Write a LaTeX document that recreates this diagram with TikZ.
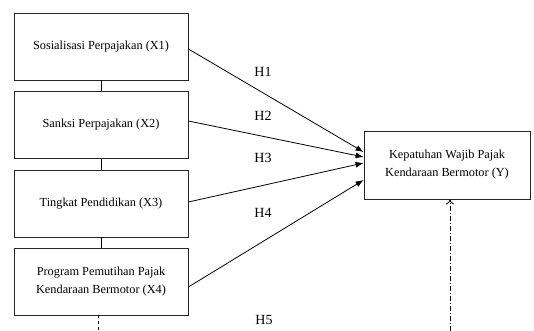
\documentclass[tikz,border=0pt]{standalone}
\usepackage{fontspec}
\setmainfont{Liberation Serif}
\usetikzlibrary{arrows.meta}
\tikzset{
	var/.style={draw=black!85, line width=.8pt, minimum width=174pt, minimum height=67pt, align=center, font=\fontsize{12.3}{18}\selectfont, inner sep=2pt},
	hyp/.style={line width=.8pt, -{Latex[length=8pt,width=6pt]}},
	hlab/.style={font=\fontsize{14}{16}\selectfont}
}
\begin{document}
\begin{tikzpicture}[x=1pt,y=-1pt]
	\useasboundingbox (0,0) rectangle (534,331);
	\node [var] (x1) at (101,46.5) {Sosialisasi Perpajakan (X1)};
	\node [var] (x2) at (101,125) {Sanksi Perpajakan (X2)};
	\node [var] (x3) at (101,203.5) {Tingkat Pendidikan (X3)};
	\node [var] (x4) at (101,281.5) {Program Pemutihan Pajak\\Kendaraan Bermotor (X4)};
	\node [var, minimum width=166pt, minimum height=68pt] (y) at (447,165) {Kepatuhan Wajib Pajak\\Kendaraan Bermotor (Y)};
	\draw [line width=.8pt] (x1) -- (x2);
	\draw [line width=.8pt] (x2) -- (x3);
	\draw [line width=.8pt] (x3) -- (x4);
	\coordinate (x4end) at (98,331);
	\draw [line width=.8pt, dash pattern=on 3pt off 3pt] (x4.south -| x4end) -- (x4end);
	% hipotesis
	\draw [hyp] ([yshift=-2.5pt]x1.east) -- ([yshift=13pt]y.west);
	\draw [hyp] ([yshift=4pt]x2.east) -- ([yshift=8pt]y.west);
	\draw [hyp] ([yshift=1.5pt]x3.east) -- ([yshift=2pt]y.west);
	\draw [hyp] ([yshift=-5.5pt]x4.east) -- ([yshift=-15pt]y.west);
	\coordinate (yend) at (450,331);
	\draw [line width=.8pt, dash pattern=on 5pt off 2pt on 1pt off 2pt, -{To[length=5pt,width=8pt]}] (yend) -- (yend |- y.south);
	\node [hlab] (h1) at (263,72) {H1};
	\node [hlab] (h2) at (263,116) {H2};
	\node [hlab] (h3) at (263,158) {H3};
	\node [hlab] (h4) at (263,213) {H4};
	\node [hlab] (h5) at (264,320) {H5};
\end{tikzpicture}
\end{document}
